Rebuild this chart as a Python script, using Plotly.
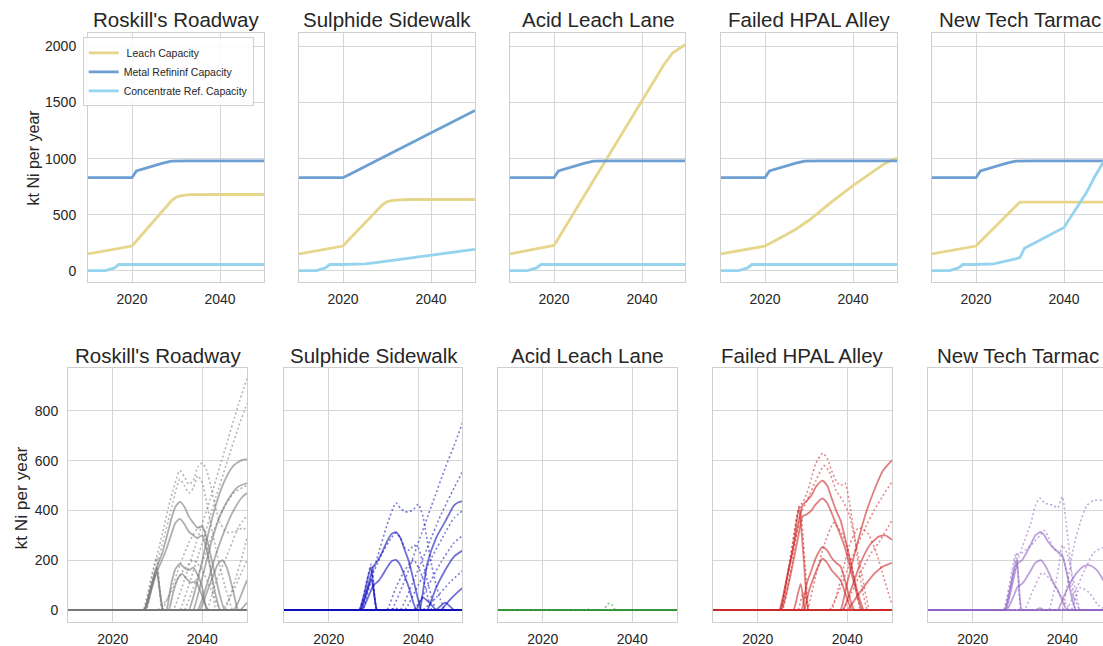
import plotly.graph_objects as go

W, H = 1103, 646
FONT = "Liberation Sans, Arial, sans-serif"
TXT = "#262626"

scenarios = ["Roskill's Roadway", "Sulphide Sidewalk", "Acid Leach Lane",
             "Failed HPAL Alley", "New Tech Tarmac"]

# ---- capacity outlook (kt Ni per year) ----
cap_years = [2010, 2014, 2016, 2017, 2020, 2021, 2023, 2024, 2025, 2027,
             2029, 2030, 2031, 2033, 2035, 2040, 2045, 2047, 2049, 2050]

leach_roskill = [150, 178, 192, 199, 220, 265, 355, 400, 445, 540,
                 625, 655, 668, 678, 680, 680, 680, 680, 680, 680]
leach_sulphide = [150, 178, 192, 199, 220, 262, 345, 390, 430, 515,
                  590, 615, 625, 632, 635, 635, 635, 635, 635, 635]
leach_acid = [150, 178, 192, 199, 225, 290, 420, 485, 550, 680,
              810, 875, 940, 1070, 1200, 1525, 1840, 1945, 1995, 2020]
leach_hpal = [150, 178, 192, 199, 220, 240, 280, 300, 325, 370,
              420, 450, 480, 545, 610, 760, 900, 950, 990, 1005]
leach_newtech = [150, 178, 192, 199, 220, 260, 340, 380, 420, 500,
                 580, 612, 612, 612, 612, 612, 612, 612, 612, 612]

metal_std = [830, 830, 830, 830, 830, 890, 915, 925, 940, 960,
             978, 980, 980, 980, 980, 980, 980, 980, 980, 980]
metal_sulphide = [830, 830, 830, 830, 830, 850, 890, 910, 930, 970,
                  1010, 1030, 1050, 1090, 1130, 1230, 1330, 1370, 1410, 1430]

conc_std = [0, 0, 25, 55, 55, 55, 55, 55, 55, 55,
            55, 55, 55, 55, 55, 55, 55, 55, 55, 55]
conc_sulphide = [0, 0, 25, 55, 55, 55, 55, 57, 60, 70,
                 81, 86, 91, 102, 112, 138, 164, 174, 185, 190]
conc_newtech = [0, 0, 25, 55, 55, 55, 55, 60, 70, 85,
                105, 118, 200, 240, 280, 385, 690, 840, 975, 1000]

leach_by_scn = [leach_roskill, leach_sulphide, leach_acid, leach_hpal, leach_newtech]
metal_by_scn = [metal_std, metal_sulphide, metal_std, metal_std, metal_std]
conc_by_scn = [conc_std, conc_sulphide, conc_std, conc_std, conc_newtech]

cap_names = [" Leach Capacity", "Metal Refininf Capacity", "Concentrate Ref. Capacity"]
cap_colors = ["#e6d68c", "#6d9fd2", "#96d4ee"]

# ---- project output paths (kt Ni per year): (years, values) ----
roskill_solid = [
    ([2010, 2026.5, 2027, 2028.5, 2029.8, 2030.5, 2031.3, 2031.8, 2050], [0, 0, 0, 90, 170, 80, 0, 0, 0]),
    ([2010, 2026.8, 2027.3, 2029.8, 2031.2, 2031.7, 2050], [0, 0, 0, 150, 0, 0, 0]),
    ([2010, 2026.5, 2027, 2028.5, 2030, 2031, 2032, 2033, 2034, 2035, 2036, 2037, 2038, 2039, 2040, 2041, 2042, 2043, 2044, 2045, 2045.5, 2050],
     [0, 0, 0, 90, 180, 225, 290, 360, 415, 434, 415, 375, 350, 330, 335, 290, 210, 130, 55, 0, 0, 0]),
    ([2010, 2026.7, 2027.2, 2028.6, 2030, 2031, 2032, 2033, 2034, 2035, 2036, 2037, 2038, 2039, 2040, 2041, 2042, 2043, 2044, 2044.5, 2050],
     [0, 0, 0, 80, 160, 200, 245, 300, 350, 366, 345, 315, 300, 290, 300, 240, 150, 60, 0, 0, 0]),
    ([2010, 2031.5, 2032, 2033, 2034, 2035, 2036, 2037, 2038, 2039, 2040, 2041, 2041.5, 2050],
     [0, 0, 0, 100, 165, 185, 170, 160, 170, 140, 90, 0, 0, 0]),
    ([2010, 2032, 2032.5, 2033.5, 2034.5, 2035.5, 2036.5, 2037.5, 2038.5, 2039.5, 2040.5, 2041.3, 2041.8, 2050],
     [0, 0, 0, 70, 125, 145, 125, 110, 115, 80, 30, 0, 0, 0]),
    ([2010, 2036.5, 2037, 2039, 2041, 2043, 2045, 2047, 2049, 2050], [0, 0, 0, 120, 280, 420, 520, 580, 603, 605]),
    ([2010, 2037.5, 2038, 2040, 2042, 2044, 2046, 2048, 2050], [0, 0, 0, 130, 270, 380, 450, 495, 510]),
    ([2010, 2038.5, 2039, 2041, 2043, 2045, 2047, 2049, 2050], [0, 0, 0, 100, 220, 320, 400, 455, 470]),
    ([2010, 2039, 2039.5, 2041, 2042.5, 2043.5, 2044.5, 2045.5, 2047, 2048, 2048.5, 2050],
     [0, 0, 0, 70, 140, 185, 200, 170, 70, 0, 0, 0]),
    ([2010, 2046.5, 2047, 2048, 2049, 2050], [0, 0, 0, 30, 75, 120]),
    ([2010, 2048, 2048.5, 2050], [0, 0, 0, 30]),
]
roskill_dotted = [
    ([2010, 2026.5, 2027, 2029, 2031, 2033, 2035, 2036, 2037, 2038, 2039, 2040, 2041, 2042, 2043, 2044, 2045, 2046, 2047, 2048, 2049, 2050],
     [0, 0, 0, 150, 300, 450, 560, 535, 505, 520, 575, 590, 560, 490, 410, 350, 320, 310, 315, 320, 330, 320]),
    ([2010, 2027, 2027.5, 2029, 2031, 2033, 2035, 2036, 2037, 2038, 2039, 2040, 2041, 2042, 2043, 2044, 2045, 2046, 2046.8, 2047.3, 2050],
     [0, 0, 0, 120, 260, 400, 525, 500, 470, 490, 540, 510, 430, 340, 250, 170, 100, 40, 0, 0, 0]),
    ([2010, 2033, 2033.5, 2036, 2039, 2042, 2045, 2048, 2050], [0, 0, 0, 120, 290, 460, 640, 820, 930]),
    ([2010, 2034.5, 2035, 2037, 2040, 2043, 2046, 2048, 2050], [0, 0, 0, 100, 270, 450, 620, 730, 830]),
    ([2010, 2035.5, 2036, 2038, 2041, 2044, 2047, 2050], [0, 0, 0, 90, 240, 380, 470, 500]),
    ([2010, 2044.5, 2045, 2047, 2049, 2050], [0, 0, 0, 100, 220, 290]),
    ([2010, 2044, 2044.5, 2046.5, 2048.5, 2050], [0, 0, 0, 60, 140, 200]),
    ([2010, 2026.3, 2026.8, 2029.8, 2031, 2031.5, 2050], [0, 0, 0, 210, 0, 0, 0]),
    ([2010, 2030.5, 2031, 2033, 2035, 2037, 2039, 2040, 2041, 2042, 2043, 2043.5, 2050],
     [0, 0, 0, 80, 180, 270, 330, 340, 260, 150, 0, 0, 0]),
    ([2010, 2029.5, 2030, 2032, 2035, 2038, 2040, 2042, 2044, 2044.5, 2050], [0, 0, 0, 40, 140, 200, 160, 80, 0, 0, 0]),
    ([2010, 2040.5, 2041, 2043, 2046, 2048, 2050], [0, 0, 0, 110, 240, 330, 380]),
]

sulphide_solid = [
    ([2010, 2026.3, 2026.8, 2028, 2029.4, 2030.7, 2031.2, 2050], [0, 0, 0, 70, 171, 0, 0, 0]),
    ([2010, 2026.7, 2027.2, 2029.5, 2030.8, 2031.3, 2050], [0, 0, 0, 120, 0, 0, 0]),
    ([2010, 2026.5, 2027, 2028.5, 2030, 2031, 2032, 2033, 2034, 2035, 2036, 2037, 2038, 2039, 2040, 2040.7, 2041.2, 2050],
     [0, 0, 0, 80, 175, 200, 235, 275, 305, 313, 290, 240, 190, 115, 40, 0, 0, 0]),
    ([2010, 2027, 2027.5, 2029, 2030, 2031, 2032, 2033, 2034, 2035, 2036, 2037, 2038, 2039, 2039.6, 2040.1, 2050],
     [0, 0, 0, 60, 100, 115, 140, 170, 195, 201, 180, 135, 85, 25, 0, 0, 0]),
    ([2010, 2039.8, 2040.3, 2042, 2044, 2046, 2048, 2049, 2050], [0, 0, 0, 185, 290, 355, 420, 433, 437]),
    ([2010, 2041.5, 2042, 2044, 2046, 2048, 2050], [0, 0, 0, 90, 160, 215, 240]),
    ([2010, 2044.5, 2045, 2047, 2049, 2050], [0, 0, 0, 40, 75, 90]),
    ([2010, 2043.5, 2044, 2046, 2048, 2048.5, 2050], [0, 0, 0, 30, 0, 0, 0]),
    ([2010, 2039, 2039.5, 2041, 2042.5, 2044, 2044.5, 2050], [0, 0, 0, 50, 30, 0, 0, 0]),
]
sulphide_dotted = [
    ([2010, 2026.5, 2027, 2029, 2031, 2033, 2035, 2036, 2037, 2038, 2039, 2040, 2041, 2042, 2043, 2044, 2045, 2046, 2046.5, 2050],
     [0, 0, 0, 100, 220, 340, 430, 410, 395, 395, 405, 425, 380, 280, 180, 100, 40, 0, 0, 0]),
    ([2010, 2027, 2027.5, 2030, 2032, 2034, 2035, 2036, 2037, 2038, 2039, 2040, 2041, 2042, 2043, 2044, 2044.5, 2050],
     [0, 0, 0, 150, 230, 290, 310, 290, 250, 240, 260, 250, 190, 120, 50, 0, 0, 0]),
    ([2010, 2033.5, 2034, 2037, 2040, 2043, 2046, 2048, 2050], [0, 0, 0, 120, 270, 420, 570, 660, 758]),
    ([2010, 2035.5, 2036, 2039, 2042, 2045, 2048, 2050], [0, 0, 0, 120, 250, 380, 490, 560]),
    ([2010, 2036.5, 2037, 2040, 2043, 2046, 2048, 2050], [0, 0, 0, 100, 210, 310, 370, 400]),
    ([2010, 2038.5, 2039, 2042, 2045, 2048, 2050], [0, 0, 0, 90, 190, 270, 300]),
    ([2010, 2040.5, 2041, 2044, 2047, 2050], [0, 0, 0, 50, 110, 160]),
    ([2010, 2026.4, 2026.9, 2029.5, 2030.7, 2031.2, 2050], [0, 0, 0, 185, 0, 0, 0]),
    ([2010, 2033.3, 2033.8, 2034.8, 2035.8, 2036.3, 2050], [0, 0, 0, 8, 0, 0, 0]),
    ([2010, 2032.5, 2033, 2035, 2037, 2039, 2041, 2043, 2043.5, 2050], [0, 0, 0, 90, 160, 200, 130, 0, 0, 0]),
]

acid_solid = [
    ([2010, 2050], [0, 0]),
    ([2010, 2050], [0, 0]),
    ([2010, 2050], [0, 0]),
]
acid_dotted = [
    ([2010, 2033, 2033.5, 2034.3, 2034.9, 2035.6, 2036.2, 2036.7, 2050], [0, 0, 0, 18, 28, 18, 0, 0, 0]),
    ([2010, 2029.3, 2029.8, 2030.1, 2030.4, 2030.9, 2050], [0, 0, 0, 4, 0, 0, 0]),
]

hpal_solid = [
    ([2010, 2024.3, 2024.8, 2026.5, 2028, 2029.2, 2030.3, 2031.3, 2031.8, 2050], [0, 0, 0, 130, 260, 409, 200, 0, 0, 0]),
    ([2010, 2027.5, 2028, 2029.6, 2030.6, 2031.1, 2050], [0, 0, 0, 105, 0, 0, 0]),
    ([2010, 2024.5, 2025, 2027, 2029, 2030, 2031, 2032, 2033, 2034.4, 2035.5, 2036.5, 2037.5, 2038.5, 2039.5, 2040.5, 2041.5, 2042.5, 2043.7, 2044.2, 2050],
     [0, 0, 0, 170, 340, 420, 440, 460, 495, 520, 500, 450, 400, 360, 290, 210, 130, 60, 0, 0, 0]),
    ([2010, 2024.8, 2025.3, 2027.2, 2029, 2030, 2031, 2032, 2033, 2034.4, 2035.5, 2036.5, 2037.5, 2038.5, 2039.5, 2040.5, 2041.5, 2042.5, 2043.3, 2043.8, 2050],
     [0, 0, 0, 130, 290, 375, 385, 400, 425, 448, 430, 390, 345, 300, 250, 180, 110, 40, 0, 0, 0]),
    ([2010, 2029.3, 2029.8, 2031, 2032, 2033, 2034.4, 2035.5, 2036.5, 2037.5, 2038.5, 2039.5, 2040.5, 2041.6, 2042.1, 2050],
     [0, 0, 0, 110, 160, 210, 253, 240, 210, 190, 175, 120, 50, 0, 0, 0]),
    ([2010, 2029.8, 2030.3, 2031.5, 2032.5, 2033.5, 2034.4, 2035.5, 2036.5, 2037.5, 2038.5, 2039.5, 2040.5, 2041.2, 2041.7, 2050],
     [0, 0, 0, 80, 130, 175, 206, 190, 160, 140, 120, 70, 20, 0, 0, 0]),
    ([2010, 2038, 2038.5, 2040, 2042, 2044, 2046, 2048, 2050], [0, 0, 0, 110, 250, 380, 480, 560, 602]),
    ([2010, 2038.5, 2039, 2041, 2043, 2045, 2047, 2048.5, 2050], [0, 0, 0, 90, 190, 260, 295, 300, 282]),
    ([2010, 2039.5, 2040, 2042, 2044, 2046, 2048, 2050], [0, 0, 0, 50, 100, 145, 175, 190]),
]
hpal_dotted = [
    ([2010, 2024.5, 2025, 2027, 2029.3, 2030, 2031, 2032, 2033, 2034.5, 2035.5, 2036.5, 2037.5, 2038.5, 2039.5, 2040.5, 2041.5, 2042.5, 2043.5, 2044.5, 2045, 2050],
     [0, 0, 0, 180, 420, 430, 470, 530, 590, 630, 610, 560, 520, 500, 510, 430, 310, 180, 70, 0, 0, 0]),
    ([2010, 2025, 2025.5, 2027.5, 2029.5, 2031, 2033, 2034.8, 2036, 2037.5, 2039, 2040.5, 2042, 2043.5, 2045, 2045.5, 2050],
     [0, 0, 0, 170, 380, 440, 520, 580, 555, 480, 440, 380, 260, 120, 0, 0, 0]),
    ([2010, 2024.7, 2025.2, 2029.4, 2030.5, 2031.5, 2032, 2050], [0, 0, 0, 420, 200, 0, 0, 0]),
    ([2010, 2035.5, 2036, 2038, 2040, 2042, 2044, 2046, 2048, 2050], [0, 0, 0, 70, 160, 250, 330, 400, 460, 515]),
    ([2010, 2036, 2036.5, 2038.5, 2040.5, 2042.5, 2044.5, 2046.5, 2048.5, 2050], [0, 0, 0, 120, 260, 330, 310, 230, 110, 20]),
    ([2010, 2030.5, 2031, 2033, 2035, 2037, 2039, 2041, 2043, 2043.5, 2050], [0, 0, 0, 140, 270, 350, 300, 180, 0, 0, 0]),
    ([2010, 2038.5, 2039, 2041, 2043, 2045, 2047, 2050], [0, 0, 0, 70, 150, 220, 270, 360]),
    ([2010, 2028.5, 2029, 2030.2, 2031.5, 2032, 2050], [0, 0, 0, 70, 0, 0, 0]),
]

newtech_solid = [
    ([2010, 2026.6, 2027.1, 2028.5, 2029.8, 2030.9, 2031.4, 2050], [0, 0, 0, 100, 200, 0, 0, 0]),
    ([2010, 2026.8, 2027.3, 2028.7, 2030, 2031, 2032, 2033, 2034, 2035.2, 2036, 2037, 2038, 2039, 2040, 2041, 2042, 2043, 2043.5, 2050],
     [0, 0, 0, 90, 186, 200, 230, 265, 300, 314, 300, 270, 250, 235, 220, 150, 60, 0, 0, 0]),
    ([2010, 2027.1, 2027.6, 2029, 2030, 2031, 2032, 2033, 2034, 2035.2, 2036, 2037, 2038, 2039, 2040, 2041, 2041.5, 2050],
     [0, 0, 0, 50, 92, 105, 130, 160, 190, 200, 185, 150, 110, 80, 40, 0, 0, 0]),
    ([2010, 2038.5, 2039, 2040.5, 2042, 2043.5, 2045, 2046, 2047, 2048, 2049, 2050], [0, 0, 0, 60, 115, 155, 178, 180, 172, 155, 125, 100]),
    ([2010, 2033.5, 2034, 2035, 2036, 2036.5, 2050], [0, 0, 0, 8, 0, 0, 0]),
]
newtech_dotted = [
    ([2010, 2026.5, 2027, 2029, 2031, 2033, 2034, 2035, 2036, 2037, 2038, 2039, 2040, 2041, 2042, 2043, 2043.5, 2050],
     [0, 0, 0, 140, 250, 350, 420, 450, 430, 425, 420, 410, 455, 330, 160, 0, 0, 0]),
    ([2010, 2027, 2027.5, 2029.8, 2031, 2033, 2035, 2036, 2037, 2038, 2039, 2040, 2041, 2042.5, 2044, 2044.5, 2050],
     [0, 0, 0, 220, 230, 260, 300, 320, 290, 250, 230, 215, 150, 60, 0, 0, 0]),
    ([2010, 2039.5, 2040, 2041, 2042.5, 2044, 2045.5, 2047, 2049, 2050], [0, 0, 0, 90, 250, 350, 420, 440, 440, 435]),
    ([2010, 2040.5, 2041, 2043, 2045, 2047, 2049, 2050], [0, 0, 0, 80, 160, 230, 250, 250]),
    ([2010, 2026.4, 2026.9, 2029.7, 2030.8, 2031.3, 2050], [0, 0, 0, 230, 0, 0, 0]),
    ([2010, 2031, 2031.5, 2033.5, 2035.5, 2037.5, 2039.5, 2041, 2042, 2042.5, 2050], [0, 0, 0, 80, 150, 120, 60, 20, 0, 0, 0]),
    ([2010, 2036.5, 2037, 2039, 2040, 2041, 2042.5, 2044, 2044.5, 2050], [0, 0, 0, 150, 260, 230, 120, 0, 0, 0]),
    ([2010, 2041.5, 2042, 2044, 2046, 2048, 2050], [0, 0, 0, 90, 70, 20, 0]),
]

solid_by_scn = [roskill_solid, sulphide_solid, acid_solid, hpal_solid, newtech_solid]
dotted_by_scn = [roskill_dotted, sulphide_dotted, acid_dotted, hpal_dotted, newtech_dotted]
scn_colors = ["rgba(120,120,120,{a})", "rgba(15,15,190,{a})", "rgba(40,140,40,{a})",
              "rgba(205,40,40,{a})", "rgba(145,100,195,{a})"]

# ---- subplot geometry (pixels) ----
top_cols = [(88, 264), (299, 475), (510, 685), (721, 897), (932, 1103)]
bot_cols = [(68, 247), (284, 462), (498, 677), (713, 892), (928, 1103)]
top_rows = (33, 282)
bot_rows = (368, 622)
top_yrange = [-101, 2121]
bot_yrange = [-48, 972]

fig = go.Figure()


def add_axes(idx, cols, rows, yrange, ytickvals, first, ppy, standoff):
    x0, x1 = cols
    xend = 2010 + (x1 - x0) / ppy
    grid = dict(showgrid=True, gridcolor="#d6d6d6", gridwidth=1, showline=True,
                linecolor="#cfcfcf", linewidth=1, mirror=True, zeroline=False,
                ticks="", tickfont=dict(family=FONT, size=14, color=TXT))
    sfx = "" if idx == 1 else str(idx)
    fig.layout["xaxis" + sfx] = dict(
        domain=[x0 / W, x1 / W], range=[2010, xend], anchor="y" + sfx,
        tickvals=[2020, 2040], ticklabelstandoff=4, **grid)
    fig.layout["yaxis" + sfx] = dict(
        domain=[1 - rows[1] / H, 1 - rows[0] / H], range=yrange, anchor="x" + sfx,
        tickvals=ytickvals, showticklabels=first, ticklabelstandoff=standoff, **grid)


for i in range(5):
    add_axes(i + 1, top_cols[i], top_rows, top_yrange, [0, 500, 1000, 1500, 2000],
             i == 0, (top_cols[0][1] - top_cols[0][0]) / 40, 8)
    add_axes(i + 6, bot_cols[i], bot_rows, bot_yrange, [0, 200, 400, 600, 800],
             i == 0, (bot_cols[0][1] - bot_cols[0][0]) / 40, 6)

# top row: capacities
for i in range(5):
    sfx = "" if i == 0 else str(i + 1)
    for name, vals, col in zip(cap_names, [leach_by_scn[i], metal_by_scn[i], conc_by_scn[i]], cap_colors):
        fig.add_trace(go.Scatter(
            x=cap_years, y=vals, mode="lines", name=name,
            line=dict(color=col, width=2.8), showlegend=(i == 0),
            xaxis="x" + sfx, yaxis="y" + sfx, cliponaxis=True))

# bottom row: project output paths
for i in range(5):
    sfx = str(i + 6)
    c = scn_colors[i]
    for yrs, vals in dotted_by_scn[i]:
        fig.add_trace(go.Scatter(
            x=yrs, y=vals, mode="lines", showlegend=False,
            line=dict(color=c.format(a=0.55), width=1.6, dash="2px,2.5px", shape="spline", smoothing=0.6),
            xaxis="x" + sfx, yaxis="y" + sfx))
    for yrs, vals in solid_by_scn[i]:
        fig.add_trace(go.Scatter(
            x=yrs, y=vals, mode="lines", showlegend=False,
            line=dict(color=c.format(a=0.6), width=1.8, shape="spline", smoothing=0.6),
            xaxis="x" + sfx, yaxis="y" + sfx))

annotations = []
for i, name in enumerate(scenarios):
    for cols, yc, wd in ((top_cols[i], 19, 176), (bot_cols[i], 355, 179)):
        cx = cols[0] + wd / 2
        annotations.append(dict(
            text=name, x=cx / W, y=1 - yc / H, xref="paper", yref="paper",
            xanchor="center", yanchor="middle", showarrow=False,
            font=dict(family=FONT, size=20.5, color=TXT)))

annotations.append(dict(text="kt Ni per year", x=33 / W, y=1 - 157.5 / H, xref="paper", yref="paper",
                        textangle=-90, showarrow=False, xanchor="center", yanchor="middle",
                        font=dict(family=FONT, size=16, color=TXT)))
annotations.append(dict(text="kt Ni per year", x=20.5 / W, y=1 - 498 / H, xref="paper", yref="paper",
                        textangle=-90, showarrow=False, xanchor="center", yanchor="middle",
                        font=dict(family=FONT, size=17.3, color=TXT)))

fig.update_layout(
    width=W, height=H, autosize=False,
    margin=dict(l=0, r=0, t=0, b=0, pad=0),
    paper_bgcolor="white", plot_bgcolor="white",
    font=dict(family=FONT, color=TXT),
    annotations=annotations,
    legend=dict(x=82.7 / W, y=1 - 37.3 / H, xanchor="left", yanchor="top",
                bgcolor="rgba(255,255,255,0.85)", bordercolor="#d0d0d0", borderwidth=1,
                font=dict(family=FONT, size=10.5, color=TXT), itemwidth=30,
                tracegroupgap=0),
)

fig.write_html("out.html")
